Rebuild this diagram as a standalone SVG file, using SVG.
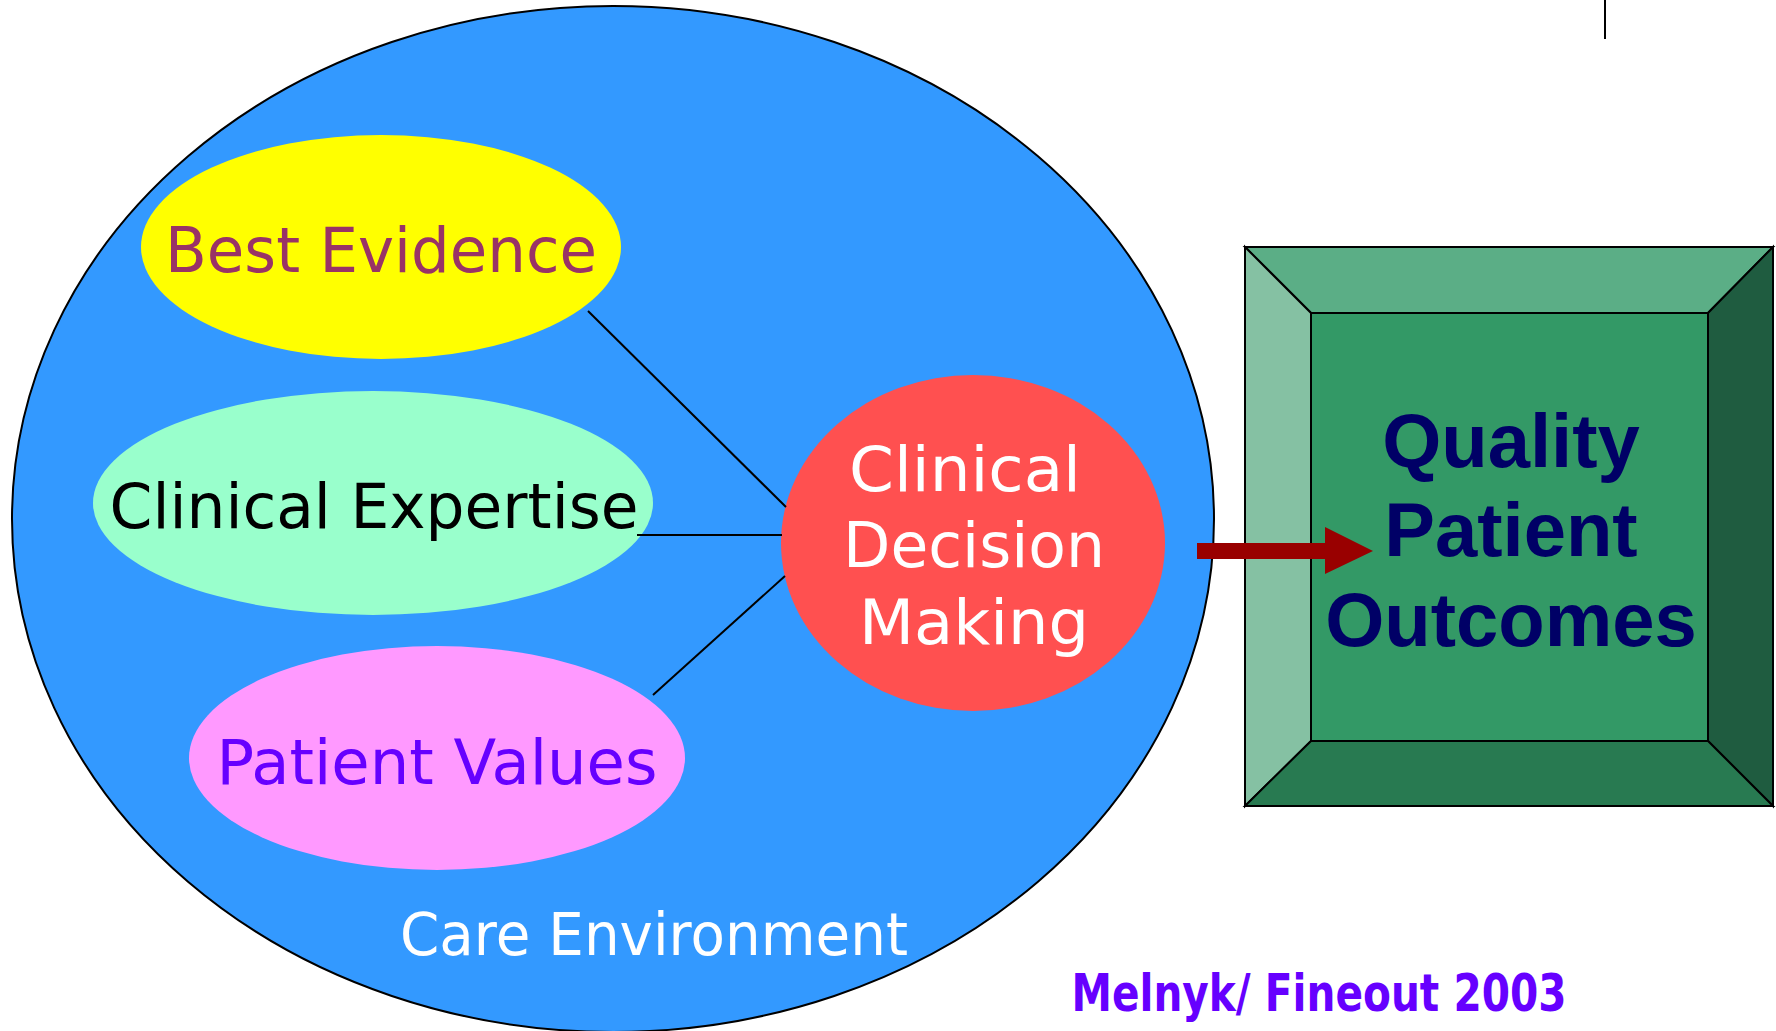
<svg xmlns="http://www.w3.org/2000/svg" width="1776" height="1031" viewBox="0 0 1776 1031">
<style>
.lbl{font-family:"DejaVu Sans","Verdana",sans-serif;text-anchor:middle}
.q{font-family:"Liberation Sans",Arial,sans-serif;font-weight:bold;font-size:76px;fill:#000066;text-anchor:middle}
.conn{stroke:#000;stroke-width:2;fill:none}
.bev{stroke:#000;stroke-width:2;stroke-linejoin:miter}
</style>
<rect width="1776" height="1031" fill="#fff"/>
<g id="care-environment">
<ellipse cx="613" cy="519" rx="601" ry="513" fill="#3399FF" stroke="#000" stroke-width="2"/>
<text class="lbl" x="654" y="955" font-size="58" fill="#fff" textLength="508" lengthAdjust="spacingAndGlyphs">Care Environment</text>
</g>
<g id="best-evidence">
<ellipse cx="381" cy="247" rx="240" ry="112" fill="#FFFF00"/>
<text class="lbl" x="381" y="272" font-size="62" fill="#993366" textLength="432" lengthAdjust="spacingAndGlyphs">Best Evidence</text>
</g>
<g id="clinical-expertise">
<ellipse cx="373" cy="503" rx="280" ry="112" fill="#99FFCC"/>
<text class="lbl" x="374" y="528" font-size="63" fill="#000" textLength="529" lengthAdjust="spacingAndGlyphs">Clinical Expertise</text>
</g>
<g id="patient-values">
<ellipse cx="437" cy="758" rx="248" ry="112" fill="#FF99FF"/>
<text class="lbl" x="437" y="784" font-size="63" fill="#6600FF" textLength="441" lengthAdjust="spacingAndGlyphs">Patient Values</text>
</g>
<g id="clinical-decision-making">
<ellipse cx="973" cy="543" rx="192" ry="168" fill="#FF5050"/>
<text class="lbl" x="965" y="491" font-size="63" fill="#fff" textLength="232" lengthAdjust="spacingAndGlyphs">Clinical</text>
<text class="lbl" x="974" y="567" font-size="63" fill="#fff" textLength="262" lengthAdjust="spacingAndGlyphs">Decision</text>
<text class="lbl" x="974" y="644" font-size="63" fill="#fff" textLength="230" lengthAdjust="spacingAndGlyphs">Making</text>
</g>
<g id="quality-patient-outcomes">
<polygon class="bev" points="1245,247 1773,247 1708,313 1311,313" fill="#5BAE86"/>
<polygon class="bev" points="1245,247 1311,313 1311,741 1245,806" fill="#85C1A3"/>
<polygon class="bev" points="1773,247 1773,806 1708,741 1708,313" fill="#1F5C40"/>
<polygon class="bev" points="1245,806 1311,741 1708,741 1773,806" fill="#287A51"/>
<rect class="bev" x="1311" y="313" width="397" height="428" fill="#339966"/>
<text class="q" x="1511" y="467">Quality</text>
<text class="q" x="1511" y="556">Patient</text>
<text class="q" x="1511" y="646">Outcomes</text>
</g>
<g id="connectors">
<line class="conn" x1="588" y1="311" x2="786" y2="507"/>
<line class="conn" x1="637" y1="535" x2="782" y2="535"/>
<line class="conn" x1="653" y1="695" x2="785" y2="576"/>
<polygon points="1197,543 1325,543 1325,527 1373,551 1325,574 1325,559 1197,559" fill="#990000"/>
</g>
<g id="credit">
<text class="lbl" x="1319" y="1011" font-size="51" font-weight="bold" fill="#6600FF" textLength="495" lengthAdjust="spacingAndGlyphs">Melnyk/ Fineout 2003</text>
</g>
<line x1="1605" y1="0" x2="1605" y2="39" stroke="#000" stroke-width="2"/>
</svg>
